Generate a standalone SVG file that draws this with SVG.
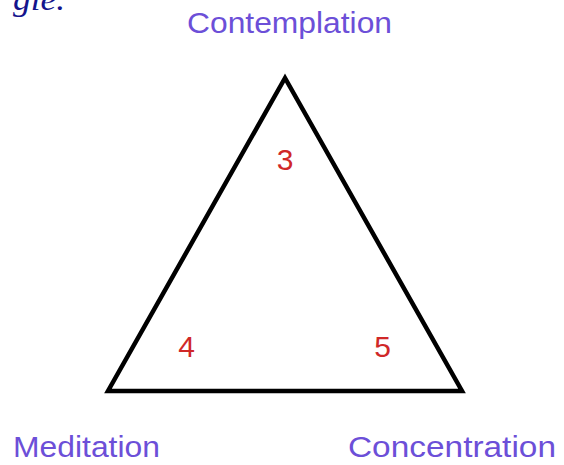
<svg xmlns="http://www.w3.org/2000/svg" width="564" height="465" viewBox="0 0 564 465">
<style>
.lbl{font-family:"Liberation Sans",Arial,sans-serif;font-size:30px;fill:#6c4fd8}
.num{font-family:"Liberation Sans",Arial,sans-serif;font-size:30px;fill:#d02828;text-anchor:middle}
.edge{fill:none;stroke:#000;stroke-width:4.5;stroke-linejoin:miter}
</style>
<rect width="564" height="465" fill="#fff"/>
<text x="13" y="10" font-family="'Liberation Serif',serif" font-style="italic" font-size="32" fill="#14148c" textLength="52" lengthAdjust="spacingAndGlyphs">gle.</text>
<g id="connectors">
<polygon class="edge" points="285,78 108,391 462,391"/>
</g>
<g id="contemplation"><text class="lbl" x="187" y="33" textLength="205" lengthAdjust="spacingAndGlyphs">Contemplation</text></g>
<g id="meditation"><text class="lbl" x="13" y="457" textLength="147" lengthAdjust="spacingAndGlyphs">Meditation</text></g>
<g id="concentration"><text class="lbl" x="348" y="457" textLength="208" lengthAdjust="spacingAndGlyphs">Concentration</text></g>
<g id="n3"><text class="num" x="285" y="170">3</text></g>
<g id="n4"><text class="num" x="186.5" y="357">4</text></g>
<g id="n5"><text class="num" x="382.5" y="357">5</text></g>
</svg>
